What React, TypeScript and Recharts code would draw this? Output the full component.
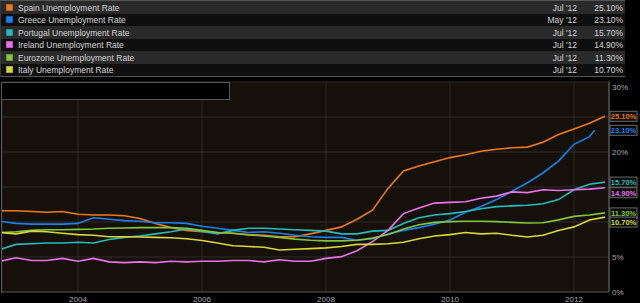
import { LineChart, Line, XAxis, YAxis, CartesianGrid } from 'recharts';

// quarterly readings, Oct '02 .. Jul '12
const quarters = [
  '2002-10',
  '2003-01', '2003-04', '2003-07', '2003-10',
  '2004-01', '2004-04', '2004-07', '2004-10',
  '2005-01', '2005-04', '2005-07', '2005-10',
  '2006-01', '2006-04', '2006-07', '2006-10',
  '2007-01', '2007-04', '2007-07', '2007-10',
  '2008-01', '2008-04', '2008-07', '2008-10',
  '2009-01', '2009-04', '2009-07', '2009-10',
  '2010-01', '2010-04', '2010-07', '2010-10',
  '2011-01', '2011-04', '2011-07', '2011-10',
  '2012-01', '2012-04', '2012-07',
];

const spain = [11.6, 11.6, 11.5, 11.4, 11.5, 11.1, 11.0, 11.0, 10.9, 10.5, 9.8, 9.2, 8.8, 8.6, 8.5, 8.4, 8.2, 8.1, 7.9, 7.9, 8.3, 8.8, 9.3, 10.4, 11.7, 14.8, 17.3, 18.0, 18.6, 19.2, 19.6, 20.1, 20.4, 20.6, 20.7, 21.4, 22.5, 23.3, 24.1, 25.1];
const greece = [10.1, 9.8, 9.7, 9.7, 9.7, 9.8, 10.6, 10.4, 10.2, 10.1, 9.9, 9.9, 9.8, 9.4, 9.1, 8.8, 8.5, 8.6, 8.4, 8.1, 7.9, 7.8, 7.8, 7.4, 7.6, 8.3, 8.8, 9.2, 9.7, 10.3, 11.4, 12.2, 13.2, 14.4, 15.6, 17.0, 18.7, 21.1, 22.2, null];
const greeceLast = { date: '2012-05', value: 23.1 };
const portugal = [6.1, 6.8, 6.9, 7.0, 7.0, 7.1, 7.0, 7.5, 7.8, 8.0, 8.3, 8.6, 9.0, 8.7, 8.3, 8.8, 9.1, 9.1, 9.0, 8.9, 8.8, 8.7, 8.3, 8.3, 8.7, 8.8, 9.8, 10.6, 11.0, 11.2, 11.5, 11.9, 12.2, 12.3, 12.4, 12.6, 13.2, 14.6, 15.4, 15.7];
const ireland = [4.4, 4.9, 4.5, 4.5, 4.8, 4.4, 4.8, 4.3, 4.2, 4.3, 4.2, 4.4, 4.3, 4.4, 4.4, 4.5, 4.5, 4.3, 4.6, 4.4, 4.4, 4.8, 5.05, 5.9, 7.2, 8.8, 11.2, 12.0, 12.7, 12.8, 12.9, 13.4, 13.7, 14.3, 14.2, 14.6, 14.5, 14.6, 14.7, 14.9];
const eurozone = [8.5, 8.6, 8.8, 8.9, 8.9, 8.95, 9.0, 9.1, 9.15, 9.2, 9.2, 9.2, 9.1, 8.8, 8.5, 8.4, 8.15, 8.0, 7.8, 7.55, 7.4, 7.3, 7.3, 7.4, 7.7, 8.2, 9.0, 9.6, 9.95, 10.05, 10.1, 10.1, 10.05, 9.95, 9.85, 9.9, 10.3, 10.8, 11.0, 11.3];
const italy = [8.5, 8.3, 8.7, 8.6, 8.4, 8.2, 8.1, 7.9, 7.9, 7.85, 7.8, 7.75, 7.6, 7.35, 7.0, 6.6, 6.5, 6.4, 6.0, 6.1, 6.2, 6.3, 6.5, 6.8, 6.8, 6.9, 7.1, 7.6, 8.0, 8.2, 8.5, 8.3, 8.4, 8.1, 7.85, 8.1, 8.8, 9.3, 10.3, 10.7];

const names = [
  'Spain Unemployment Rate',
  'Greece Unemployment Rate',
  'Portugal Unemployment Rate',
  'Ireland Unemployment Rate',
  'Eurozone Unemployment Rate',
  'Italy Unemployment Rate',
];
const keys = ['spain', 'greece', 'portugal', 'ireland', 'eurozone', 'italy'];
const latestDates = ["Jul '12", "May '12", "Jul '12", "Jul '12", "Jul '12", "Jul '12"];
const colors = ['#f07818', '#1a80ee', '#22bcbc', '#ec72ec', '#82c63c', '#d8d63a'];
const yTicks = [0, 5, 10, 15, 20, 25, 30];
// these tick labels sit under the end-value tags
const hiddenYLabels = [10, 15, 25];
const xTicks = [2004, 2006, 2008, 2010, 2012];

const FONT = '"Liberation Sans", Arial, sans-serif';
const TAG_X = 610;
// small nudges so the end tags don't overlap
const tagShift = [0, 0, 0, 5, 0, 5];

const toYear = (s: string) => {
  const [y, m] = s.split('-').map(Number);
  return y + (m - 1) / 12;
};

const values = [spain, greece, portugal, ireland, eurozone, italy];

const rows: any[] = quarters.map((q, i) => {
  const row: any = { t: toYear(q) };
  keys.forEach((k, s) => {
    const v = values[s][i];
    if (v != null) row[k] = v;
  });
  return row;
});
rows.push({ t: toYear(greeceLast.date), greece: greeceLast.value });
rows.sort((a, b) => a.t - b.t);

const lastIndex = keys.map((k) => {
  let idx = -1;
  rows.forEach((r, i) => {
    if (r[k] != null) idx = i;
  });
  return idx;
});

const lastValue = keys.map((k, s) => rows[lastIndex[s]][k] as number);

function makeTag(s: number) {
  return (props: any) => {
    const { y, index, value } = props;
    if (index !== lastIndex[s] || value == null) return null;
    const cy = y + tagShift[s];
    return (
      <g key={`tag-${s}`}>
        <rect x={TAG_X} y={cy - 5} width={27} height={10} fill="#0c0c0c" stroke="#6a6a6a" strokeWidth={1} />
        <text x={TAG_X + 13.5} y={cy + 2.8} textAnchor="middle" fill={colors[s]} fontSize={7.5} fontWeight="bold" fontFamily={FONT}>
          {`${Number(value).toFixed(2)}%`}
        </text>
      </g>
    );
  };
}

const YTick = (props: any) => {
  const { x, y, payload } = props;
  if (hiddenYLabels.includes(payload.value)) return null;
  return (
    <text x={x} y={y + 3} textAnchor="start" fill="#a8a8a8" fontSize={8} fontFamily={FONT}>
      {`${payload.value}%`}
    </text>
  );
};

const XTick = (props: any) => {
  const { x, y, payload } = props;
  return (
    <text x={x} y={y + 9.5} textAnchor="middle" fill="#a8a8a8" fontSize={8} fontFamily={FONT}>
      {payload.value}
    </text>
  );
};

function Header() {
  return (
    <div
      style={{
        position: 'absolute',
        left: 0,
        top: 0,
        width: 625,
        height: 77,
        boxSizing: 'border-box',
        borderTop: '1px solid #555',
        borderBottom: '1px solid #555',
        borderLeft: '1px solid #3a3a3a',
        fontFamily: FONT,
        fontSize: 8.5,
        color: '#d4d4d4',
      }}
    >
      {names.map((n, i) => (
        <div
          key={n}
          style={{
            position: 'relative',
            height: 12.5,
            background: i % 2 === 0 ? '#2a2a2a' : '#0f0f0f',
          }}
        >
          <div
            style={{
              position: 'absolute',
              left: 5,
              top: 2.5,
              width: 7,
              height: 7,
              background: colors[i],
              boxShadow: 'inset 0 0 0 0.5px rgba(0,0,0,0.4)',
            }}
          />
          <span style={{ position: 'absolute', left: 17, top: 1.5, whiteSpace: 'nowrap' }}>{n}</span>
          <span style={{ position: 'absolute', right: 625 - 577, top: 1.5, whiteSpace: 'nowrap' }}>{latestDates[i]}</span>
          <span style={{ position: 'absolute', right: 2, top: 1.5, whiteSpace: 'nowrap' }}>
            {`${lastValue[i].toFixed(2)}%`}
          </span>
        </div>
      ))}
    </div>
  );
}

export default function App() {
  return (
    <div style={{ position: 'absolute', left: 0, top: 0, width: 640, height: 303, background: '#000', overflow: 'hidden' }}>
      <Header />
      <div style={{ position: 'absolute', left: 0, top: 78 }}>
        <LineChart width={640} height={225} data={rows} margin={{ top: 4, right: 0, bottom: 0, left: 2 }}>
          <CartesianGrid fill="#15110a" stroke="#2e2b26" strokeWidth={1} />
          <XAxis
            dataKey="t"
            type="number"
            domain={[2002.774, 2012.565]}
            allowDataOverflow
            ticks={xTicks}
            tick={<XTick />}
            tickLine={false}
            tickSize={0}
            tickMargin={0}
            height={11}
            axisLine={{ stroke: '#4a4a4a' }}
          />
          <YAxis
            orientation="right"
            type="number"
            domain={[0, 30]}
            ticks={yTicks}
            tick={<YTick />}
            tickLine={false}
            tickSize={0}
            tickMargin={3}
            width={31}
            axisLine={{ stroke: '#6a6a6a' }}
          />
          {keys.map((k, s) => (
            <Line
              key={k}
              dataKey={k}
              name={names[s]}
              type="linear"
              stroke={colors[s]}
              strokeWidth={1.6}
              dot={false}
              connectNulls
              isAnimationActive={false}
              label={makeTag(s)}
            />
          ))}
        </LineChart>
      </div>
      <div
        style={{
          position: 'absolute',
          left: 1,
          top: 82,
          width: 229,
          height: 18,
          boxSizing: 'border-box',
          border: '1px solid #5a5a5a',
          background: '#000',
        }}
      />
      <div style={{ position: 'absolute', left: 1, top: 82, width: 1, height: 211, background: '#5a5a5a' }} />
    </div>
  );
}
